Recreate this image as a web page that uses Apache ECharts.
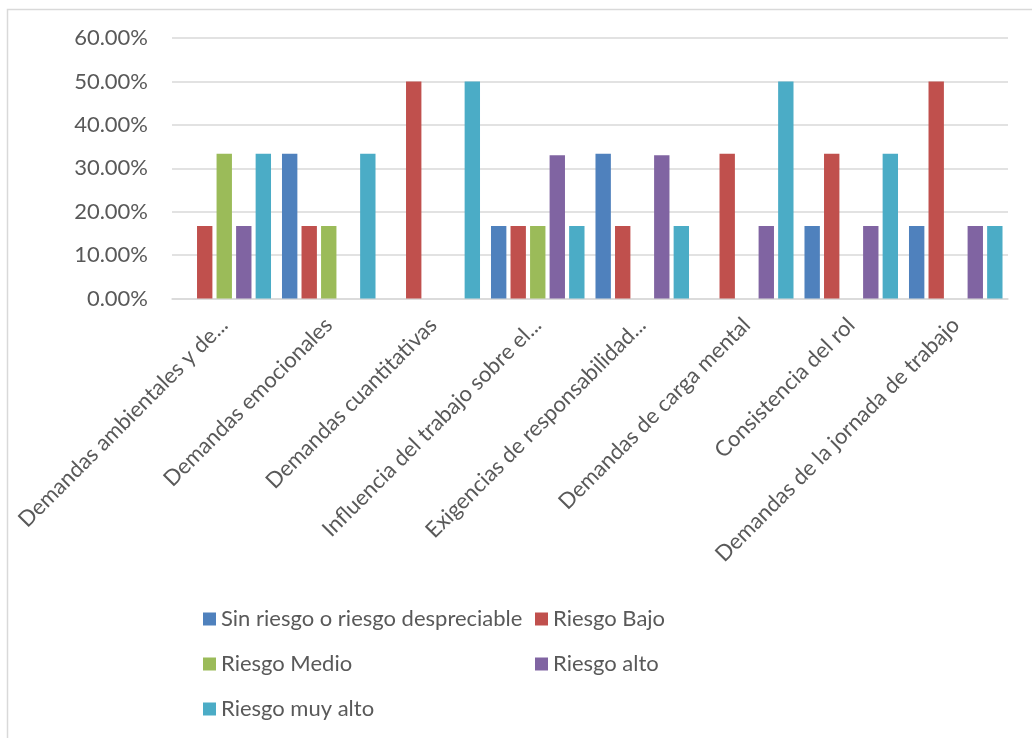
<!DOCTYPE html>
<html>
<head>
<meta charset="utf-8">
<script src="https://cdn.jsdelivr.net/npm/echarts@6/dist/echarts.min.js"></script>
<style>
html,body{margin:0;padding:0;background:#fff;}
#chart{width:1032px;height:738px;}
</style>
</head>
<body>
<div id="chart"></div>
<script>
const categories = [
  "Demandas ambientales y de...",
  "Demandas emocionales",
  "Demandas cuantitativas",
  "Influencia del trabajo sobre el...",
  "Exigencias de responsabilidad...",
  "Demandas de carga mental",
  "Consistencia del rol",
  "Demandas de la jornada de trabajo"
];
const seriesNames = [
  "Sin riesgo o riesgo despreciable",
  "Riesgo Bajo",
  "Riesgo Medio",
  "Riesgo alto",
  "Riesgo muy alto"
];
const sinRiesgo   = [0,     33.33, 0,  16.67, 33.33, 0,     16.67, 16.67];
const riesgoBajo  = [16.67, 16.67, 50, 16.67, 16.67, 33.33, 33.33, 50];
const riesgoMedio = [33.33, 16.67, 0,  16.67, 0,     0,     0,     0];
const riesgoAlto  = [16.67, 0,     0,  33.0,  33.0,  16.67, 16.67, 16.67];
const riesgoMuyAlto = [33.33, 33.33, 50, 16.67, 16.67, 50,  33.33, 16.67];
const yTicks = [0, 10, 20, 30, 40, 50, 60];

const seriesData = [sinRiesgo, riesgoBajo, riesgoMedio, riesgoAlto, riesgoMuyAlto];
const colors = ['#4F81BD', '#C0504D', '#9BBB59', '#8064A2', '#4BACC6'];
const FONT = 'Lato';
const TXT = '#595959';

const legendPos = [
  {left: 203, top: 608},
  {left: 535, top: 608},
  {left: 203, top: 653},
  {left: 535, top: 653},
  {left: 203, top: 698}
];

const chart = echarts.init(document.getElementById('chart'), null, {renderer: 'canvas'});
chart.setOption({
  animation: false,
  color: colors,
  textStyle: {fontFamily: FONT},
  graphic: [{
    type: 'rect',
    shape: {x: 7.5, y: 9.5, width: 1060, height: 760},
    style: {fill: 'none', stroke: '#d9d9d9', lineWidth: 1.5},
    silent: true
  }],
  grid: {left: 172, right: 24, top: 38, bottom: 439.5},
  legend: seriesNames.map((n, i) => ({
    data: [n],
    left: legendPos[i].left,
    top: legendPos[i].top,
    padding: 0,
    icon: 'rect',
    itemWidth: 13,
    itemHeight: 13,
    selectedMode: false,
    textStyle: {fontFamily: FONT, fontSize: 22, color: TXT}
  })),
  xAxis: {
    type: 'category',
    data: categories,
    axisLine: {show: true, lineStyle: {color: '#d9d9d9', width: 1.5}},
    axisTick: {show: false},
    axisLabel: {
      rotate: 45,
      interval: 0,
      margin: 23,
      fontFamily: FONT,
      fontSize: 22,
      color: TXT
    }
  },
  yAxis: {
    type: 'value',
    min: yTicks[0],
    max: yTicks[yTicks.length - 1],
    interval: yTicks[1] - yTicks[0],
    axisLine: {show: false},
    axisTick: {show: false},
    splitLine: {lineStyle: {color: '#d9d9d9', width: 1.5}},
    axisLabel: {
      margin: 24,
      fontFamily: FONT,
      fontSize: 22,
      color: TXT,
      formatter: v => v.toFixed(2) + '%'
    }
  },
  series: seriesNames.map((n, i) => ({
    name: n,
    type: 'bar',
    data: seriesData[i],
    barGap: '27%',
    barCategoryGap: '10.5%',
    itemStyle: {color: colors[i]}
  }))
});
</script>
</body>
</html>
